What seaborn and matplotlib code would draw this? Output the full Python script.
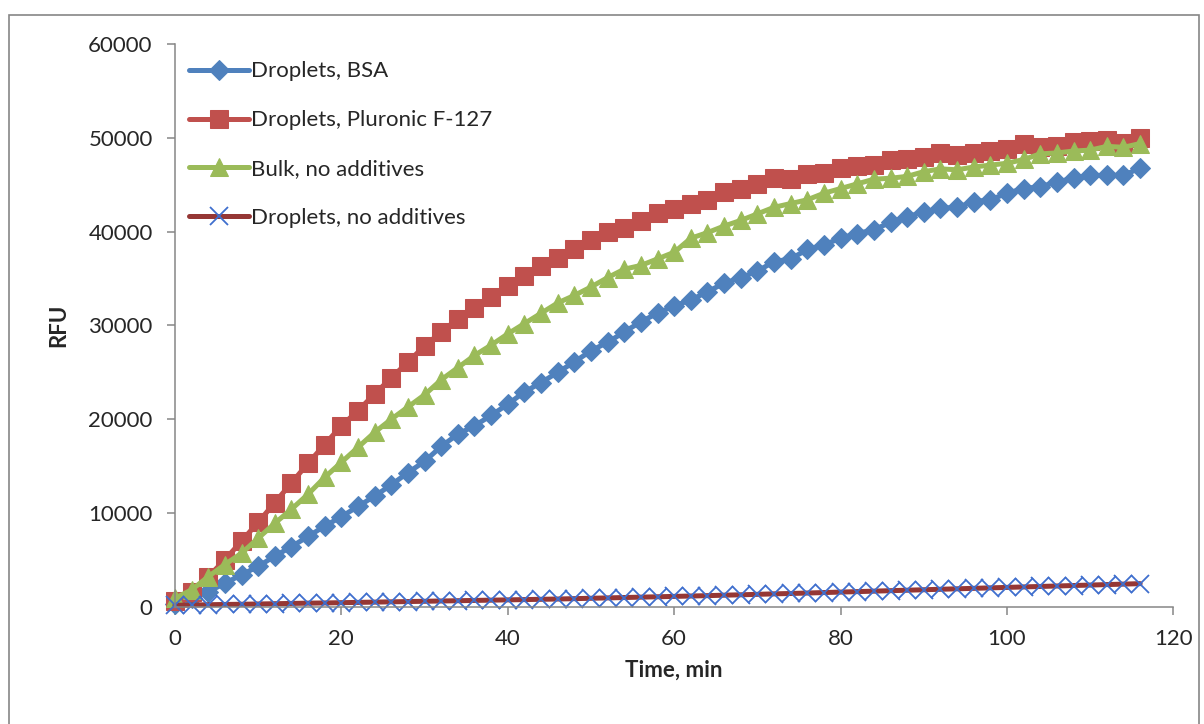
import matplotlib
matplotlib.use('Agg')
import matplotlib.pyplot as plt
import seaborn as sns
from matplotlib.patches import Rectangle

sns.set_style('white')
plt.rcParams['font.family'] = ['Lato', 'DejaVu Sans']

# time points (min)
time_min = [0, 2, 4, 6, 8, 10, 12, 14, 16, 18, 20, 22, 24, 26, 28, 30, 32, 34, 36, 38,
            40, 42, 44, 46, 48, 50, 52, 54, 56, 58, 60, 62, 64, 66, 68, 70, 72, 74, 76, 78,
            80, 82, 84, 86, 88, 90, 92, 94, 96, 98, 100, 102, 104, 106, 108, 110, 112, 114, 116]

droplets_bsa = [300, 900, 1600, 2500, 3400, 4300, 5400, 6400, 7500, 8600,
                9600, 10700, 11800, 13000, 14300, 15500, 17100, 18400, 19300, 20400,
                21600, 22900, 23900, 25000, 26100, 27300, 28200, 29300, 30400, 31300,
                32100, 32700, 33600, 34500, 35100, 35800, 36800, 37100, 38100, 38600,
                39300, 39800, 40200, 41000, 41600, 42100, 42500, 42600, 43200, 43400,
                44100, 44600, 44800, 45300, 45700, 46000, 46000, 46000, 46800]

droplets_pluronic = [600, 1600, 3200, 5000, 7000, 9000, 11100, 13200, 15300, 17300,
                     19300, 20900, 22700, 24400, 26100, 27800, 29300, 30700, 31900, 33000,
                     34200, 35300, 36300, 37200, 38200, 39100, 40000, 40400, 41100, 42000,
                     42400, 42900, 43400, 44200, 44600, 45100, 45700, 45600, 46100, 46300,
                     46800, 47000, 47100, 47600, 47700, 48000, 48400, 48200, 48400, 48600,
                     48800, 49300, 49000, 49100, 49600, 49700, 49800, 49500, 50000]

bulk_no_add = [900, 1800, 3200, 4500, 5700, 7300, 8900, 10400, 12000, 13800,
               15400, 17000, 18600, 20000, 21300, 22600, 24200, 25500, 26800, 27900,
               29100, 30200, 31300, 32400, 33200, 34100, 35100, 36000, 36400, 37100,
               37800, 39300, 39900, 40600, 41200, 41900, 42600, 43000, 43400, 44100,
               44600, 45100, 45600, 45700, 45900, 46400, 46700, 46600, 46900, 47100,
               47300, 47700, 48300, 48400, 48600, 48700, 49100, 49000, 49400]

droplets_no_add = [150, 180, 210, 240, 260, 290, 320, 350, 380, 400,
                   430, 460, 490, 520, 550, 580, 610, 640, 670, 700,
                   730, 760, 790, 820, 860, 900, 940, 980, 1020, 1060,
                   1100, 1140, 1180, 1230, 1270, 1320, 1370, 1410, 1460, 1510,
                   1560, 1610, 1660, 1710, 1760, 1810, 1860, 1910, 1960, 2010,
                   2060, 2110, 2160, 2210, 2260, 2310, 2360, 2410, 2460]

fig = plt.figure(figsize=(12.04, 7.24), dpi=100)
ax = fig.add_axes([0.1453, 0.1620, 0.8293, 0.7770])

lw = 3.6
sns.lineplot(x=time_min, y=droplets_bsa, ax=ax, color='#4F81BD', lw=lw, marker='D', ms=10.5,
             mec='#4F81BD', label='Droplets, BSA', clip_on=False)
sns.lineplot(x=time_min, y=droplets_pluronic, ax=ax, color='#C0504D', lw=lw, marker='s', ms=12.5,
             mec='#C0504D', label='Droplets, Pluronic F-127', clip_on=False)
sns.lineplot(x=time_min, y=bulk_no_add, ax=ax, color='#9BBB59', lw=lw, marker='^', ms=13.5,
             mec='#9BBB59', label='Bulk, no additives', clip_on=False)
sns.lineplot(x=time_min, y=droplets_no_add, ax=ax, color='#953735', lw=lw, marker='x', ms=12.5,
             mec='#3F6FCE', mew=1.3, label='Droplets, no additives', clip_on=False)

ax.set_xlim(0, 120)
ax.set_ylim(0, 60000)
ax.set_xticks([0, 20, 40, 60, 80, 100, 120])
ax.set_yticks([0, 10000, 20000, 30000, 40000, 50000, 60000])
ax.tick_params(axis='both', direction='out', length=6, width=1.1, color='#868686',
               labelsize=16, pad=10, left=True, bottom=True)
for side in ['top', 'right']:
    ax.spines[side].set_visible(False)
for side in ['left', 'bottom']:
    ax.spines[side].set_color('#868686')
    ax.spines[side].set_linewidth(1.1)

ax.set_xlabel('Time, min', fontsize=16, fontweight='bold', labelpad=8)
ax.set_ylabel('RFU', fontsize=16, fontweight='bold', labelpad=14)

ax.legend(loc='upper left', bbox_to_anchor=(0.005, 0.985), frameon=False, fontsize=16,
          handlelength=2.7, handletextpad=0.1, labelspacing=1.3, borderaxespad=0)

# chart area border
fig.patches.append(Rectangle((9 / 1204, -0.02), 1190 / 1204, 1 - 15 / 724 + 0.02,
                             transform=fig.transFigure, fill=False, ec='#868686', lw=1.2))

plt.savefig('out.png', dpi=100)
plt.close()
